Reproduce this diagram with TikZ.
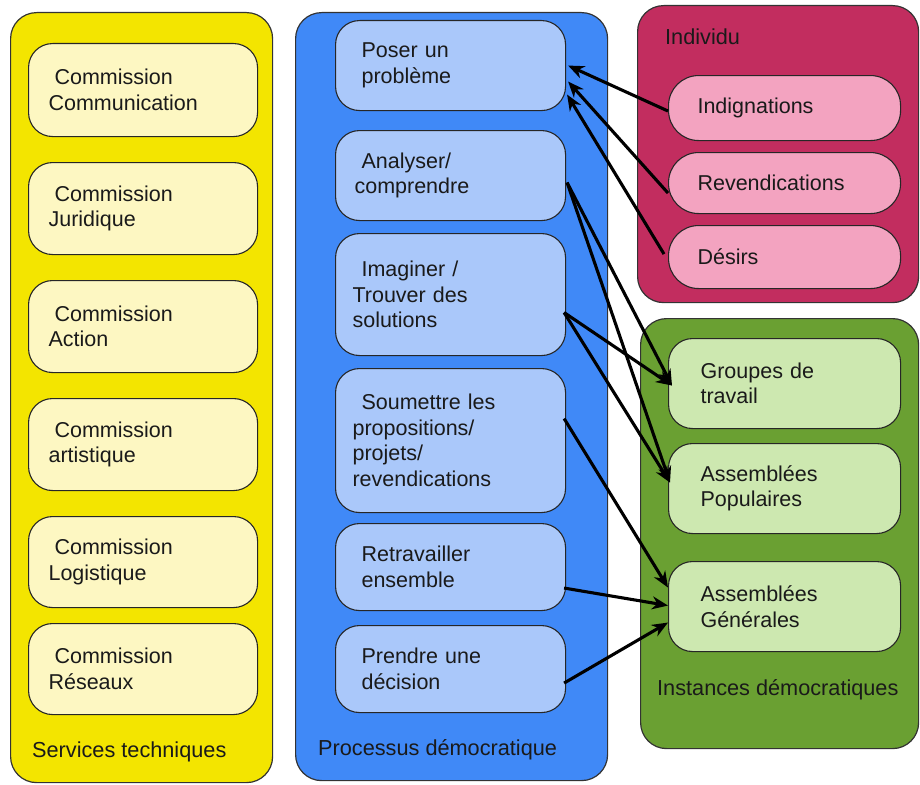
\documentclass[tikz,border=0pt]{standalone}
\usepackage{fontspec}
\setmainfont{Liberation Sans}
\usetikzlibrary{arrows.meta,calc}
\definecolor{cyel}{HTML}{F3E500}
\definecolor{cyelin}{HTML}{FDF7C2}
\definecolor{cblue}{HTML}{4089F7}
\definecolor{cbluein}{HTML}{AAC8FA}
\definecolor{cred}{HTML}{C22D5F}
\definecolor{credin}{HTML}{F3A3C0}
\definecolor{cgreen}{HTML}{6AA032}
\definecolor{cgreenin}{HTML}{CDE8B0}
\definecolor{ctext}{HTML}{1A1A1A}
\begin{document}
\begin{tikzpicture}[x=1pt,y=-1pt,
  container/.style={draw=black!80, line width=1.2pt, rounded corners=26pt, anchor=north west, inner sep=0pt},
  box/.style={draw=black!85, line width=1.1pt, rounded corners=24pt, anchor=north west, align=left,
    font=\fontsize{21.5}{25.5}\selectfont, text=ctext, inner ysep=0pt},
  ybox/.style={box, fill=cyelin, text width=189pt, inner xsep=20pt, minimum height=#1},
  bbox/.style={box, fill=cbluein, text width=196pt, inner xsep=17pt, minimum height=#1},
  pbox/.style={box, fill=credin, text width=174pt, inner xsep=29pt, minimum height=#1, rounded corners=30pt},
  gbox/.style={box, fill=cgreenin, text width=168pt, inner xsep=32pt, minimum height=#1},
  lbl/.style={anchor=west, font=\fontsize{21.7}{24}\selectfont, text=ctext, inner sep=0pt},
  arr/.style={draw=black, line width=3.1pt, -{Stealth[length=16pt,width=13pt]}}
]
\useasboundingbox (0,0) rectangle (920,784);

% containers
\node[container, fill=cyel, minimum width=262pt, minimum height=770pt] (st) at (10,12) {};
\node[container, fill=cblue, minimum width=312pt, minimum height=768pt] (pd) at (295,12) {};
\node[container, fill=cred, minimum width=281pt, minimum height=297pt] (ind) at (637,5) {};
\node[container, fill=cgreen, minimum width=278pt, minimum height=430pt] (inst) at (640,318) {};

% container labels
\node[lbl] (stl) at (32,752) {Services techniques};
\node[lbl] (pdl) at (318,750) {Processus démocratique};
\node[lbl] (indl) at (665,37) {Individu};
\node[lbl] (instl) at (657,690) {Instances démocratiques};

% yellow boxes
\node[ybox=93pt] (c1) at (28,43) {\hspace*{6pt}Commission\\Communication};
\node[ybox=92pt] (c2) at (28,162) {\hspace*{6pt}Commission\\Juridique};
\node[ybox=92pt] (c3) at (28,280) {\hspace*{6pt}Commission\\Action};
\node[ybox=92pt] (c4) at (28,398) {\hspace*{6pt}Commission\\artistique};
\node[ybox=91pt] (c5) at (28,516) {\hspace*{6pt}Commission\\Logistique};
\node[ybox=91pt] (c6) at (28,623) {\hspace*{6pt}Commission\\Réseaux};

% blue boxes
\node[bbox=90pt] (poser) at (335,20) {\hspace*{9pt}Poser un\\\hspace*{9pt}problème};
\node[bbox=90pt] (anal) at (335,130) {\hspace*{9pt}Analyser/\\\hspace*{2pt}comprendre};
\node[bbox=122pt] (imag) at (335,233) {\hspace*{9pt}Imaginer /\\Trouver des\\solutions};
\node[bbox=144pt] (soum) at (335,368) {\hspace*{9pt}Soumettre les\\propositions/\\projets/\\revendications};
\node[bbox=87pt] (retr) at (335,523) {\hspace*{9pt}Retravailler\\\hspace*{9pt}ensemble};
\node[bbox=87pt] (prend) at (335,625) {\hspace*{9pt}Prendre une\\\hspace*{9pt}décision};

% pink boxes
\node[pbox=65pt] (indig) at (668,75) {Indignations};
\node[pbox=61pt] (reven) at (668,152) {Revendications};
\node[pbox=63pt] (desirs) at (668,225) {Désirs};

% green boxes
\node[gbox=90pt] (grp) at (668,338) {Groupes de\\travail};
\node[gbox=90pt] (pop) at (668,443) {Assemblées\\Populaires};
\node[gbox=90pt] (gen) at (668,561) {Assemblées\\Générales};

% arrows
\draw[arr] ([yshift=-3pt]indig.west) -- ([xshift=2pt]poser.east);
\draw[arr] ([yshift=-10pt]reven.west) -- ([xshift=2pt,yshift=-16pt]poser.east);
\draw[arr] ([xshift=-4pt,yshift=3pt]desirs.west) -- ([xshift=1pt,yshift=-29pt]poser.east);

\draw[arr] ([xshift=1pt,yshift=-7pt]anal.east) -- ([xshift=4pt,yshift=-2pt]grp.west);
\draw[arr] ([xshift=1pt,yshift=-7pt]anal.east) -- ([xshift=2pt,yshift=6pt]pop.west);
\draw[arr] ([xshift=-2pt,yshift=-18pt]imag.east) -- ([xshift=4pt,yshift=-2pt]grp.west);
\draw[arr] ([xshift=-2pt,yshift=-18pt]imag.east) -- ([xshift=2pt,yshift=6pt]pop.west);

\draw[arr] ([xshift=-2pt,yshift=22pt]soum.east) -- ([yshift=19pt]gen.west);
\draw[arr] ([xshift=-2pt,yshift=-21pt]retr.east) -- ([yshift=1pt]gen.west);
\draw[arr] ([xshift=-2pt,yshift=-14pt]prend.east) -- ([yshift=-16pt]gen.west);
\end{tikzpicture}
\end{document}
